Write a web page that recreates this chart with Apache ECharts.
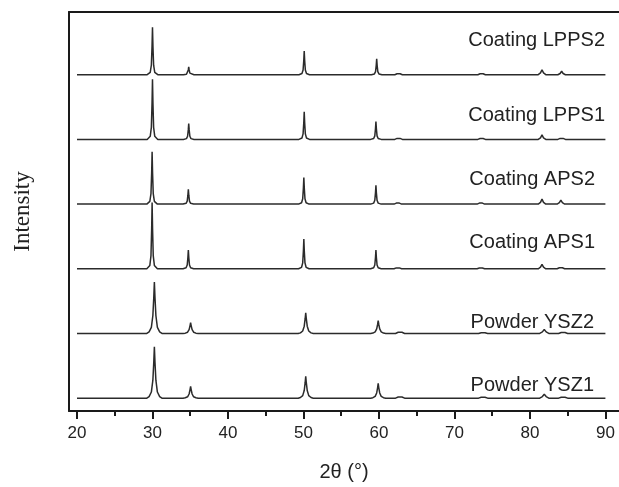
<!DOCTYPE html>
<html>
<head>
<meta charset="utf-8">
<script src="https://cdn.jsdelivr.net/npm/echarts@6/dist/echarts.min.js"></script>
<style>
  html, body { margin: 0; padding: 0; background: #fff; }
  #chart { width: 619px; height: 487px; }
</style>
</head>
<body>
<div id="chart"></div>
<script>
// XRD patterns, intensity in arbitrary units, 2θ in degrees
const sampleNames = ['Powder YSZ1', 'Powder YSZ2', 'Coating APS1', 'Coating APS2', 'Coating LPPS1', 'Coating LPPS2'];
// vertical offset applied to each pattern so they stack
const stackOffsets = [13, 78.5, 144, 209.5, 275, 340.5];
const majorTicks = [20, 30, 40, 50, 60, 70, 80, 90];
const minorTicks = [25, 35, 45, 55, 65, 75, 85];

const powderYSZ1 = [
  [20,0],[29.25,0],[29.55,1.6],[29.85,6.2],[30.05,18.2],[30.17,36.4],[30.25,52],[30.33,36.4],[30.45,18.2],[30.65,6.2],[30.95,1.6],[31.25,0],
  [34.05,0],[34.35,0.4],[34.65,1.4],[34.85,4.2],[34.97,8.4],[35.05,12],[35.13,8.4],[35.25,4.2],[35.45,1.4],[35.75,0.4],[36.05,0],
  [49.3,0],[49.6,0.7],[49.9,2.6],[50.1,7.7],[50.22,15.4],[50.3,22],[50.38,15.4],[50.5,7.7],[50.7,2.6],[51.0,0.7],[51.3,0],
  [58.9,0],[59.2,0.5],[59.5,1.8],[59.7,5.3],[59.82,10.5],[59.9,15],[59.98,10.5],[60.1,5.3],[60.3,1.8],[60.6,0.5],[60.9,0],
  [62.2,0],[62.55,1.2],[62.8,3],[63.05,1.2],[63.4,0],
  [73.2,0],[73.55,1],[73.8,2.5],[74.05,1],[74.4,0],
  [81.3,0],[81.65,1.6],[81.9,4],[82.15,1.6],[82.5,0],
  [83.8,0],[84.15,1],[84.4,2.5],[84.65,1],[85.0,0],
  [90,0]
];
const powderYSZ2 = [
  [20,0],[29.25,0],[29.55,1.6],[29.85,6.2],[30.05,18.2],[30.17,36.4],[30.25,52],[30.33,36.4],[30.45,18.2],[30.65,6.2],[30.95,1.6],[31.25,0],
  [34.05,0],[34.35,0.3],[34.65,1.3],[34.85,3.9],[34.97,7.7],[35.05,11],[35.13,7.7],[35.25,3.9],[35.45,1.3],[35.75,0.3],[36.05,0],
  [49.3,0],[49.6,0.6],[49.9,2.5],[50.1,7.4],[50.22,14.7],[50.3,21],[50.38,14.7],[50.5,7.4],[50.7,2.5],[51.0,0.6],[51.3,0],
  [58.9,0],[59.2,0.4],[59.5,1.6],[59.7,4.6],[59.82,9.1],[59.9,13],[59.98,9.1],[60.1,4.6],[60.3,1.6],[60.6,0.4],[60.9,0],
  [62.2,0],[62.55,1.2],[62.8,3],[63.05,1.2],[63.4,0],
  [73.2,0],[73.55,0.8],[73.8,2],[74.05,0.8],[74.4,0],
  [81.3,0],[81.65,1.6],[81.9,4],[82.15,1.6],[82.5,0],
  [83.8,0],[84.15,1],[84.4,2.5],[84.65,1],[85.0,0],
  [90,0]
];
const coatingAPS1 = [
  [20,0],[29.25,0],[29.65,3.4],[29.8,13.4],[29.89,40.2],[29.95,67],[30.01,40.2],[30.1,13.4],[30.25,3.4],[30.65,0],
  [34.05,0],[34.45,1],[34.6,3.8],[34.69,11.4],[34.75,19],[34.81,11.4],[34.9,3.8],[35.05,1],[35.45,0],
  [49.35,0],[49.75,1.5],[49.9,6],[49.99,18],[50.05,30],[50.11,18],[50.2,6],[50.35,1.5],[50.75,0],
  [58.9,0],[59.3,1],[59.45,3.8],[59.54,11.4],[59.6,19],[59.66,11.4],[59.75,3.8],[59.9,1],[60.3,0],
  [62.0,0],[62.3,0.9],[62.5,2.5],[62.7,0.9],[63.0,0],
  [73.0,0],[73.3,0.7],[73.5,2],[73.7,0.7],[74.0,0],
  [81.1,0],[81.4,1.6],[81.6,4.5],[81.8,1.6],[82.1,0],
  [83.6,0],[83.9,1],[84.1,3],[84.3,1],[84.6,0],
  [90,0]
];
const coatingAPS2 = [
  [20,0],[29.25,0],[29.65,2.7],[29.8,10.6],[29.89,31.8],[29.95,53],[30.01,31.8],[30.1,10.6],[30.25,2.7],[30.65,0],
  [34.05,0],[34.45,0.8],[34.6,3],[34.69,9],[34.75,15],[34.81,9],[34.9,3],[35.05,0.8],[35.45,0],
  [49.35,0],[49.75,1.4],[49.9,5.4],[49.99,16.2],[50.05,27],[50.11,16.2],[50.2,5.4],[50.35,1.4],[50.75,0],
  [58.9,0],[59.3,1],[59.45,3.8],[59.54,11.4],[59.6,19],[59.66,11.4],[59.75,3.8],[59.9,1],[60.3,0],
  [62.0,0],[62.3,1],[62.5,3],[62.7,1],[63.0,0],
  [73.0,0],[73.3,1],[73.5,3],[73.7,1],[74.0,0],
  [81.1,0],[81.4,1.8],[81.6,5],[81.8,1.8],[82.1,0],
  [83.6,0],[83.9,1.4],[84.1,4],[84.3,1.4],[84.6,0],
  [90,0]
];
const coatingLPPS1 = [
  [20,0],[29.3,0],[29.7,3.1],[29.85,12.2],[29.94,36.6],[30.0,61],[30.06,36.6],[30.15,12.2],[30.3,3.1],[30.7,0],
  [34.1,0],[34.5,0.8],[34.65,3.2],[34.74,9.6],[34.8,16],[34.86,9.6],[34.95,3.2],[35.1,0.8],[35.5,0],
  [49.4,0],[49.8,1.4],[49.95,5.6],[50.04,16.8],[50.1,28],[50.16,16.8],[50.25,5.6],[50.4,1.4],[50.8,0],
  [58.9,0],[59.3,0.9],[59.45,3.6],[59.54,10.8],[59.6,18],[59.66,10.8],[59.75,3.6],[59.9,0.9],[60.3,0],
  [62.1,0],[62.4,1],[62.6,3],[62.8,1],[63.1,0],
  [73.1,0],[73.4,0.9],[73.6,2.5],[73.8,0.9],[74.1,0],
  [81.1,0],[81.4,1.6],[81.6,4.5],[81.8,1.6],[82.1,0],
  [83.7,0],[84.0,1],[84.2,3],[84.4,1],[84.7,0],
  [90,0]
];
const coatingLPPS2 = [
  [20,0],[29.3,0],[29.7,2.4],[29.85,9.6],[29.94,28.8],[30.0,48],[30.06,28.8],[30.15,9.6],[30.3,2.4],[30.7,0],
  [34.1,0],[34.5,0.4],[34.65,1.6],[34.74,4.8],[34.8,8],[34.86,4.8],[34.95,1.6],[35.1,0.4],[35.5,0],
  [49.4,0],[49.8,1.2],[49.95,4.8],[50.04,14.4],[50.1,24],[50.16,14.4],[50.25,4.8],[50.4,1.2],[50.8,0],
  [59.0,0],[59.4,0.8],[59.55,3.2],[59.64,9.6],[59.7,16],[59.76,9.6],[59.85,3.2],[60.0,0.8],[60.4,0],
  [62.1,0],[62.4,1],[62.6,3],[62.8,1],[63.1,0],
  [73.1,0],[73.4,1],[73.6,3],[73.8,1],[74.1,0],
  [81.1,0],[81.4,1.8],[81.6,5],[81.8,1.8],[82.1,0],
  [83.7,0],[84.0,1.2],[84.2,3.5],[84.4,1.2],[84.7,0],
  [90,0]
];

const patterns = [powderYSZ1, powderYSZ2, coatingAPS1, coatingAPS2, coatingLPPS1, coatingLPPS2];

const X_MIN = 18.94, X_MAX = 91.8;
const axisColor = '#1a1a1a';
const textColor = '#222';

const chart = echarts.init(document.getElementById('chart'), null, { renderer: 'canvas' });

const series = patterns.map((pts, i) => ({
  name: sampleNames[i],
  type: 'line',
  xAxisIndex: 0,
  yAxisIndex: 0,
  showSymbol: false,
  symbol: 'none',
  smooth: false,
  animation: false,
  lineStyle: { color: '#2b2b2b', width: 1.5 },
  data: pts.map(p => [p[0], p[1] + stackOffsets[i]])
}));

// sample names, right aligned above each pattern
const labelSpots = [
  { y: 385, right: 594 },
  { y: 322, right: 594 },
  { y: 242, right: 595 },
  { y: 179, right: 595 },
  { y: 115, right: 605 },
  { y: 40, right: 605 }
];

chart.setOption({
  animation: false,
  backgroundColor: '#fff',
  grid: { left: 69, right: 0, top: 12, bottom: 71, containLabel: false },
  xAxis: [
    {
      type: 'value', position: 'bottom', min: X_MIN, max: X_MAX,
      name: '2θ (°)', nameLocation: 'middle', nameGap: 51,
      nameTextStyle: { fontFamily: 'Liberation Sans', fontSize: 20, color: textColor },
      axisLine: { show: true, onZero: false, lineStyle: { color: axisColor, width: 2 } },
      axisTick: { show: true, inside: false, length: 8, customValues: majorTicks, lineStyle: { color: axisColor, width: 2 } },
      axisLabel: { show: true, customValues: majorTicks, margin: 14, fontFamily: 'Liberation Sans', fontSize: 17, color: textColor },
      splitLine: { show: false }
    },
    {
      type: 'value', position: 'bottom', min: X_MIN, max: X_MAX,
      axisLine: { show: false, onZero: false },
      axisTick: { show: true, inside: false, length: 5, customValues: minorTicks, lineStyle: { color: axisColor, width: 2 } },
      axisLabel: { show: false },
      splitLine: { show: false }
    },
    {
      type: 'value', position: 'top', min: X_MIN, max: X_MAX,
      axisLine: { show: true, onZero: false, lineStyle: { color: axisColor, width: 2 } },
      axisTick: { show: false },
      axisLabel: { show: false },
      splitLine: { show: false }
    }
  ],
  yAxis: {
    type: 'value', min: 0, max: 404, position: 'left',
    name: 'Intensity', nameLocation: 'middle', nameGap: 35, nameRotate: 90,
    nameTextStyle: { fontFamily: 'Liberation Serif', fontSize: 23, color: textColor },
    axisLine: { show: true, onZero: false, lineStyle: { color: axisColor, width: 2 } },
    axisTick: { show: false },
    axisLabel: { show: false },
    splitLine: { show: false }
  },
  graphic: labelSpots.map((s, i) => ({
    type: 'text',
    x: s.right,
    y: s.y,
    style: {
      text: sampleNames[i],
      align: 'right',
      verticalAlign: 'middle',
      fontFamily: 'Liberation Sans',
      fontSize: 20,
      fill: textColor
    }
  })),
  series: series
});
</script>
</body>
</html>
